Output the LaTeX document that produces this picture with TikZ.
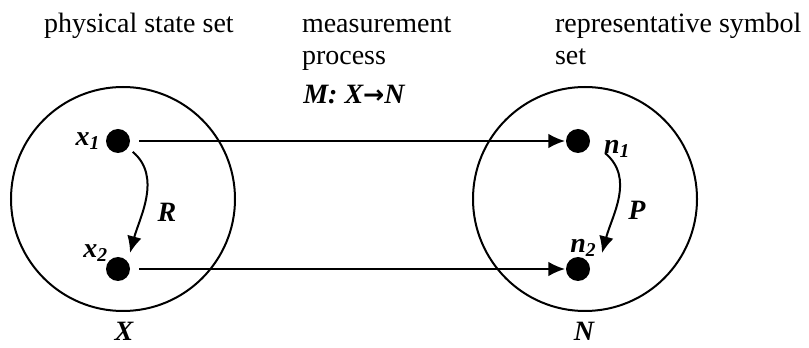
\documentclass[tikz,border=0pt]{standalone}
\usepackage{fontspec}
\setmainfont{Liberation Serif}
\newfontfamily\arrowfont{DejaVu Sans}
\usetikzlibrary{arrows.meta, positioning, calc}

\tikzset{
  dot/.style={circle, fill=black, inner sep=0pt, minimum size=18pt},
  setcirc/.style={draw, circle, minimum size=168pt, inner sep=0pt},
  lab/.style={font=\fontsize{21}{25}\selectfont\bfseries\itshape, inner sep=1pt},
  txt/.style={font=\fontsize{21}{25}\selectfont, inner sep=0pt, anchor=base west},
}

\begin{document}
\begin{tikzpicture}[x=0.75pt, y=-0.75pt, line width=1.5pt,
    >={Latex[length=12.5pt, width=11pt]}]
    \useasboundingbox (0,0) rectangle (809,348);

    % the two sets
    \node[setcirc] (X) at (123,199) {};
    \node[setcirc] (N) at (585,199) {};
    \node[lab, anchor=base] (Xlab) at (124,340) {X};
    \node[lab, anchor=base] (Nlab) at (584,340) {N};

    % headings
    \node[txt] (phys) at (43,33) {physical state set};
    \node[txt] (meas) at (301,33) {measurement};
    \node[txt] (proc) at (301,65) {process};
    \node[txt] (repr) at (554,33) {representative symbol};
    \node[txt] (rset) at (554,65) {set};

    % elements
    \node[dot] (x1) at (118,141) {};
    \node[dot] (x2) at (118,269) {};
    \node[dot] (n1) at (578,141) {};
    \node[dot] (n2) at (578,269) {};

    \node[lab, left=2pt of x1] (x1lab) {x\textsubscript{1}};
    \node[lab, above left=-3pt and -1pt of x2] (x2lab) {x\textsubscript{2}};
    \node[lab, right=8pt of n1, yshift=-6pt] (n1lab) {n\textsubscript{1}};
    \node[lab, above=-2pt of n2, xshift=4pt] (n2lab) {n\textsubscript{2}};

    % measurement M
    \node[lab, anchor=base west] (Mlab) at (301,104)
        {M: X{\arrowfont\upshape\bfseries\fontsize{19}{23}\selectfont →}N};
    \draw[->, shorten <=6pt] (x1) -- (n1);
    \draw[->, shorten <=6pt] (x2) -- (n2);

    % relations R and P
    \draw[->, shorten <=4pt, shorten >=6pt] (x1.-35) to[out=-40, in=75] (x2.40);
    \node[lab] (R) at (167,212) {R};

    \coordinate (p1) at ($(n1)+(27,12)$);
    \coordinate (p2) at ($(n2)+(24,-16)$);
    \draw[->] (p1) to[out=-40, in=75] (p2);
    \node[lab] (P) at (637,210) {P};

\end{tikzpicture}
\end{document}
